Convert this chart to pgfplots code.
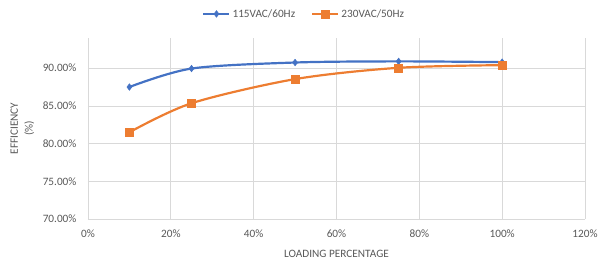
\documentclass[border=0pt]{standalone}
\usepackage{pgfplots}
\pgfplotsset{compat=1.18}
\usepackage{fontspec}
\setmainfont{Carlito}
\definecolor{cblue}{HTML}{4472C4}
\definecolor{corange}{HTML}{ED7D31}
\definecolor{tgray}{HTML}{595959}
\definecolor{ggray}{HTML}{D9D9D9}
\begin{document}
\begin{tikzpicture}
\path[use as bounding box] (-88bp,-45bp) rectangle (510bp,219bp);
\begin{axis}[
  at={(0,0)}, anchor=south west,
  scale only axis, width=497bp, height=181bp,
  xmin=0, xmax=120, ymin=70, ymax=94,
  xtick={0,20,40,60,80,100,120},
  ytick={70,75,80,85,90},
  grid=major,
  major grid style={ggray, line width=0.75pt},
  axis line style={draw=none},
  major tick length=0pt,
  /pgf/number format/assume math mode=true,
  ticklabel style={font=\fontsize{11.3}{13}\selectfont, text=tgray},
  xticklabel={\pgfmathprintnumber{\tick}\%},
  yticklabel={\pgfmathprintnumber[fixed,fixed zerofill,precision=2]{\tick}\%},
  yticklabel style={xshift=-8bp},
  xticklabel style={yshift=-7bp},
  xlabel={LOADING PERCENTAGE},
  xlabel style={font=\fontsize{11.3}{13}\selectfont, text=tgray, at={(axis description cs:0.5,0)}, anchor=center, yshift=-35bp},
  ylabel={EFFICIENCY\\(\%)},
  ylabel style={font=\fontsize{11.3}{15}\selectfont, text=tgray, align=center, at={(axis description cs:-0.132,0.5)}, anchor=center},
  legend columns=2,
  legend style={at={(axis description cs:0.435,1.133)}, anchor=center, draw=none, fill=none,
    font=\fontsize{11.3}{13}\selectfont, text=tgray,
    /tikz/every even column/.append style={column sep=14bp}},
  legend cell align=left,
  legend image code/.code={\draw[mark repeat=2,mark phase=2] plot coordinates {(0bp,0bp) (13bp,0bp) (26bp,0bp)};},
  clip=false,
]
\addplot[cblue, line width=2.2pt, smooth, mark=diamond*, mark size=3.3bp, mark options={solid, fill=cblue, line width=0.5pt}]
  coordinates {(10,87.5) (25,89.95) (50,90.75) (75,90.9) (100,90.8)};
\addlegendentry{115VAC/60Hz}
\addplot[corange, line width=2.2pt, smooth, mark=square*, mark size=4bp, mark options={solid, fill=corange, line width=0.5pt}]
  coordinates {(10,81.5) (25,85.35) (50,88.55) (75,90.05) (100,90.4)};
\addlegendentry{230VAC/50Hz}
\end{axis}
\end{tikzpicture}
\end{document}
